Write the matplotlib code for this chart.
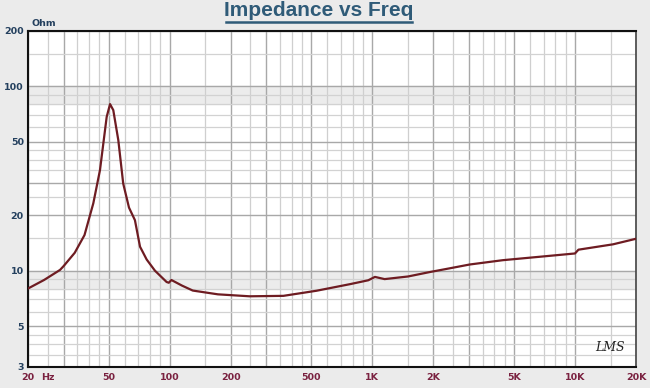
import matplotlib.pyplot as plt
import numpy as np
from matplotlib.lines import Line2D
from matplotlib.ticker import FixedLocator, NullLocator

# impedance curve
freq = [20, 24, 28.8, 30, 34, 38, 42, 45.3, 48.9, 50.8, 52.7, 55.8, 59, 63, 67.4,
        71.4, 77, 84.6, 96.6, 99, 102, 115, 130, 173, 248, 364, 530, 776, 955,
        1030, 1150, 1500, 1930, 2410, 3020, 4400, 6700, 10000, 10400, 15400, 20000]
ohms = [8.0, 8.9, 10.1, 10.6, 12.5, 15.6, 23.2, 35.1, 68.4, 80.2, 74.4, 51.1, 29.7, 22.0, 18.8,
        13.5, 11.5, 10.0, 8.68, 8.6, 8.9, 8.3, 7.8, 7.44, 7.26, 7.3, 7.78, 8.45, 8.87,
        9.25, 9.0, 9.3, 9.84, 10.3, 10.8, 11.4, 11.9, 12.4, 13.0, 13.9, 14.9]

x_ticks = [20, 50, 100, 200, 500, 1000, 2000, 5000, 10000, 20000]
x_labels = ['20', '50', '100', '200', '500', '1K', '2K', '5K', '10K', '20K']
y_ticks = [3, 5, 10, 20, 50, 100, 200]
y_labels = ['3', '5', '10', '20', '50', '100', '200']

fig = plt.figure(figsize=(6.5, 3.88), dpi=100)
fig.patch.set_facecolor('#ebebeb')
ax = fig.add_axes([28 / 650, 21 / 388, 608 / 650, 336 / 388])
ax.set_facecolor('white')
ax.set_xscale('log')
ax.set_yscale('log')
ax.set_xlim(20, 20000)
ax.set_ylim(3, 200)

# shaded bands that come from the dense grid in the original
ax.axhspan(80, 100, color='#ececec', zorder=0)
ax.axhspan(8, 10, color='#ececec', zorder=0)

# vertical grid
for dec in [10, 100, 1000, 10000]:
    for m in [1, 2, 3, 5]:
        v = m * dec
        if 20 <= v <= 20000:
            ax.axvline(v, color='#a8a8a8', lw=1.0, zorder=1)
    for m in [1.5, 2.5, 3.5, 4, 4.5, 6, 7, 8, 9]:
        v = m * dec
        if 20 <= v <= 20000:
            ax.axvline(v, color='#cfcfcf', lw=0.9, zorder=1)

# horizontal grid
for dec in [1, 10, 100]:
    for m in [1, 2, 3, 5]:
        v = m * dec
        if 3 <= v <= 200:
            ax.axhline(v, color='#a8a8a8', lw=1.0, zorder=1)
    for m in [1.5, 2.5, 3.5, 4, 4.5, 6, 7, 8, 9]:
        v = m * dec
        if 3 <= v <= 200:
            ax.axhline(v, color='#d2d2d2', lw=0.9, zorder=1)

ax.plot(freq, ohms, color='#6e1c22', lw=1.6, zorder=3)

ax.xaxis.set_major_locator(FixedLocator(x_ticks))
ax.xaxis.set_minor_locator(NullLocator())
ax.yaxis.set_major_locator(FixedLocator(y_ticks))
ax.yaxis.set_minor_locator(NullLocator())
ax.set_xticklabels(x_labels)
ax.set_yticklabels(y_labels)
ax.tick_params(axis='both', length=0, labelsize=6.8)
ax.tick_params(axis='x', pad=4, labelcolor='#7a2140')
ax.tick_params(axis='y', pad=3, labelcolor='#24405e')
for lab in ax.get_xticklabels() + ax.get_yticklabels():
    lab.set_fontweight('bold')

for side in ['left', 'bottom', 'top']:
    ax.spines[side].set_color('#111111')
    ax.spines[side].set_linewidth(1.5)
ax.spines['right'].set_color('#444444')
ax.spines['right'].set_linewidth(1.2)

fig.text(31 / 650, 1 - 24 / 388, 'Ohm', fontsize=6.8, fontweight='bold',
         color='#24405e', va='center', ha='left')
fig.text(41 / 650, 1 - 377 / 388, 'Hz', fontsize=6.8, fontweight='bold',
         color='#7a2140', va='center', ha='left')
ax.text(0.982, 0.04, 'LMS', transform=ax.transAxes, fontsize=9, style='italic',
        family='DejaVu Serif', color='#222222', ha='right', va='bottom')

fig.text(319 / 650, 1 - 16 / 388, 'Impedance vs Freq', fontsize=15, fontweight='bold',
         family='Liberation Sans', color='#2f5b78', ha='center', va='baseline')
fig.add_artist(Line2D([226 / 650, 412 / 650], [1 - 22 / 388, 1 - 22 / 388],
                      color='#2f5b78', lw=1.8, transform=fig.transFigure))

fig.savefig('out.png', dpi=100, facecolor=fig.get_facecolor())
